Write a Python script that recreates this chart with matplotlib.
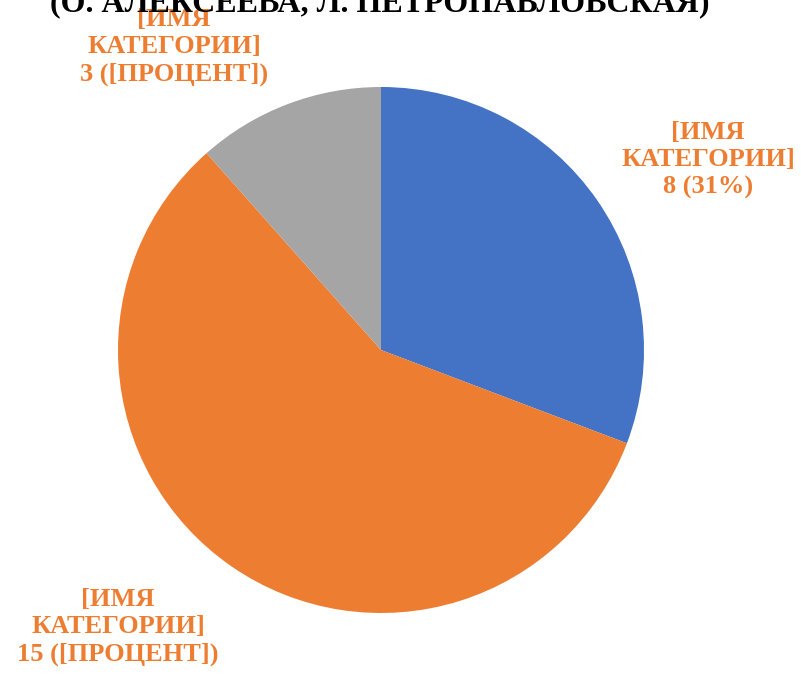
import matplotlib.pyplot as plt

# data
values = [8, 15, 3]
labels = ["[ИМЯ\nКАТЕГОРИИ]\n8 (31%)",
          "[ИМЯ\nКАТЕГОРИИ]\n15 ([ПРОЦЕНТ])",
          "[ИМЯ\nКАТЕГОРИИ]\n3 ([ПРОЦЕНТ])"]
colors = ["#4472C4", "#ED7D31", "#A5A5A5"]
label_pos = [(708, 514), (118, 47), (174, 627)]
title = "(О. АЛЕКСЕЕВА, Л. ПЕТРОПАВЛОВСКАЯ)"

plt.rcParams['font.family'] = ['Liberation Serif', 'DejaVu Serif']

fig = plt.figure(figsize=(8.01, 6.74), dpi=100)
ax = fig.add_axes([0, 0, 1, 1])

ax.pie(values, colors=colors, startangle=90, counterclock=False,
       center=(381, 324), radius=263, frame=True,
       wedgeprops=dict(linewidth=0))
ax.set_xlim(0, 801)
ax.set_ylim(0, 674)
ax.set_aspect('equal')
ax.axis('off')

for lab, (x, y) in zip(labels, label_pos):
    ax.text(x, y, lab, ha='center', va='center', fontsize=19,
            fontweight='bold', color="#ED7D31", linespacing=1.22)

# title is cut off by the top edge, as in the source image
ax.text(380, 663, title, ha='center', va='baseline', fontsize=23,
        fontweight='bold', color='black', clip_on=False)

fig.savefig("out.png", dpi=100)
